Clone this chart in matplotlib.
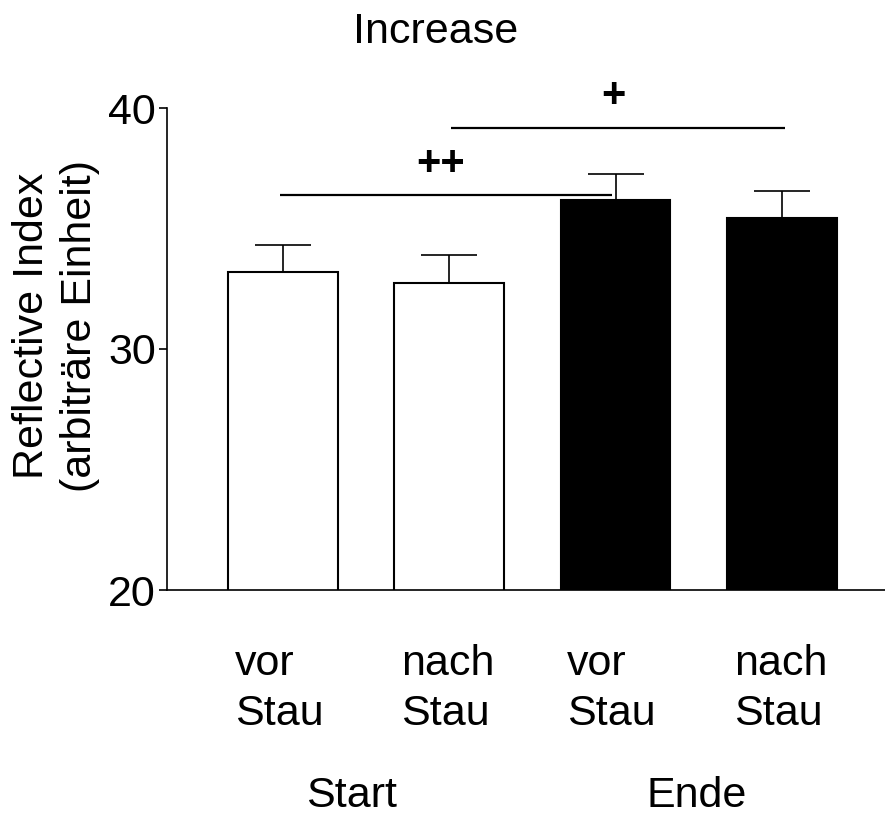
import matplotlib
matplotlib.use("Agg")
import matplotlib.pyplot as plt
from matplotlib.transforms import blended_transform_factory

plt.rcParams['font.family'] = ['Liberation Sans', 'DejaVu Sans']

# Data
tick_labels = ["vor\nStau", "nach\nStau", "vor\nStau", "nach\nStau"]
groups = ["Start", "Ende"]
means = [33.21, 32.75, 36.18, 35.44]
errors = [1.12, 1.16, 1.07, 1.12]
colors = ["white", "white", "black", "black"]
sig_labels = ["++", "+"]
sig_spans = [(-0.02, 1.98), (1.01, 3.02)]
sig_heights = [36.39, 39.18]

FS = 31

fig = plt.figure(figsize=(8.85, 8.16), dpi=100)
ax = fig.add_axes([167/885, (816-590)/816, (885-167)/885, 482/816])

x = list(range(len(means)))
ax.bar(x, means, width=0.66, color=colors, edgecolor="black", linewidth=1.5, zorder=2)
ax.errorbar(x, means, yerr=[[0]*len(errors), errors], fmt="none", ecolor="black",
            elinewidth=1.2, capsize=20.5, capthick=1.2, zorder=1)

ax.set_ylim(20, 40)
ax.set_xlim(-0.697, 3.62)
ax.set_yticks([20, 30, 40])
ax.tick_params(axis='y', labelsize=FS, length=6, width=1.2, direction='out', pad=2)
ax.set_xticks([])
for s in ["top", "right"]:
    ax.spines[s].set_visible(False)
for s in ["left", "bottom"]:
    ax.spines[s].set_linewidth(1.2)

# significance lines
for (x0, x1), h in zip(sig_spans, sig_heights):
    ax.plot([x0, x1], [h, h], color="black", lw=1.6, clip_on=False, solid_capstyle='butt')
for lab, h, tx in zip(sig_labels, sig_heights, [0.95, 1.99]):
    ax.text(tx, h + 1.3, lab, ha="center", va="center", fontsize=FS - 1,
            fontweight="bold", clip_on=False)

# x labels (each line placed on its own baseline)
trans = blended_transform_factory(ax.transData, fig.transFigure)
line_baselines = [675, 725]
for xi, lab in zip(x, tick_labels):
    for line, yb in zip(lab.split("\n"), line_baselines):
        ax.text(xi - 0.29, 1 - yb/816, line, transform=trans, ha="left",
                va="baseline", fontsize=FS)
for gx, g in zip([0.41, 2.49], groups):
    ax.text(gx, 1 - 807/816, g, transform=trans, ha="center", va="baseline", fontsize=FS)

fig.text(436/885, 1 - 43/816, "Increase", ha="center", va="baseline", fontsize=FS)
fig.text(56/885, 1 - 326/816, "Reflective Index\n(arbiträre Einheit)", ha="center", va="center",
         rotation=90, fontsize=FS, linespacing=1.25)

fig.savefig("out.png", dpi=100)
